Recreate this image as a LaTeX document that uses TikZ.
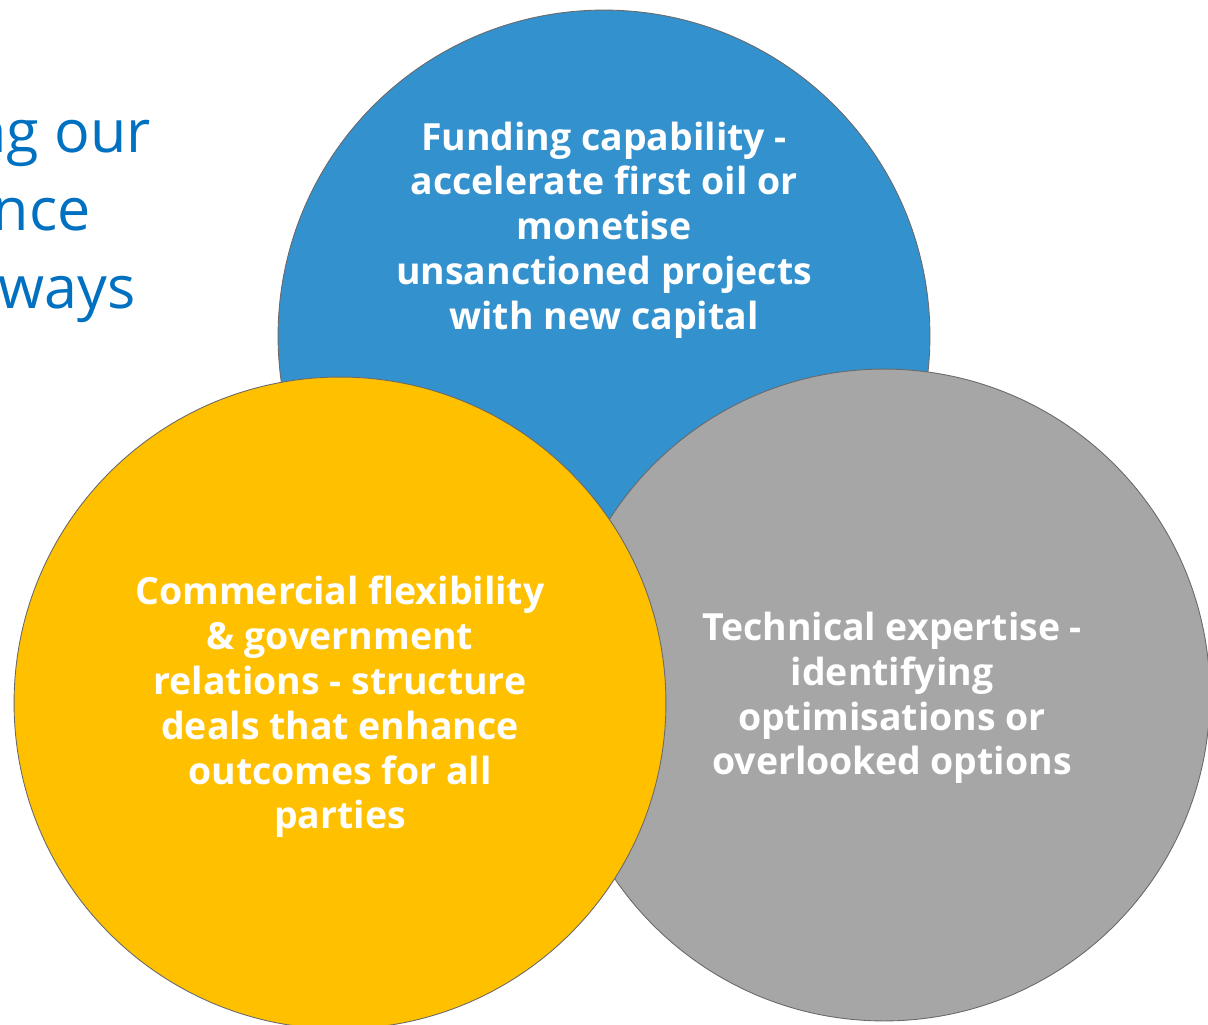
\documentclass[tikz,border=0pt]{standalone}
\usepackage{fontspec}
\setmainfont{Open Sans}
\definecolor{fundblue}{HTML}{3391CD}
\definecolor{techgray}{HTML}{A6A6A6}
\definecolor{commyellow}{HTML}{FFC000}
\definecolor{edgegray}{HTML}{6A6A6A}
\definecolor{titleblue}{HTML}{0070C0}
\begin{document}
\begin{tikzpicture}[x=0.02cm,y=-0.02cm,
		ring/.style={circle,draw=edgegray,line width=0.5pt,minimum size=13.04cm,inner sep=0pt},
		ringtext/.style={text=white,align=center,font=\bfseries\fontsize{21.3}{25.5}\selectfont},
		headline/.style={text=titleblue,anchor=base east,inner sep=0pt,font=\fontsize{33.7}{44}\selectfont}]
			\useasboundingbox (0,0) rectangle (1208,1025);
			\begin{scope}
			\clip (0,0) rectangle (1208,1025);
			% left title, cut by the page edge
			\node [headline] (title1) at (151,152) {ng our};
			\node [headline] (title2) at (91,230) {nce};
			\node [headline] (title3) at (136,308) {ways};
			% the three circles
			\node [ring,fill=fundblue] (funding) at (604,336) {};
			\node [ring,fill=techgray] (technical) at (884,695) {};
			\node [ring,fill=commyellow] (commercial) at (340,703) {};
			\end{scope}
			\node [ringtext] (fundingtext) at (604,230) {Funding capability -\\accelerate first oil or\\monetise\\unsanctioned projects\\with new capital};
			\node [ringtext] (technicaltext) at (892,698) {Technical expertise -\\identifying\\optimisations or\\overlooked options};
			\node [ringtext] (commercialtext) at (340,707) {Commercial flexibility\\\& government\\relations - structure\\deals that enhance\\outcomes for all\\parties};
		\end{tikzpicture}
\end{document}
